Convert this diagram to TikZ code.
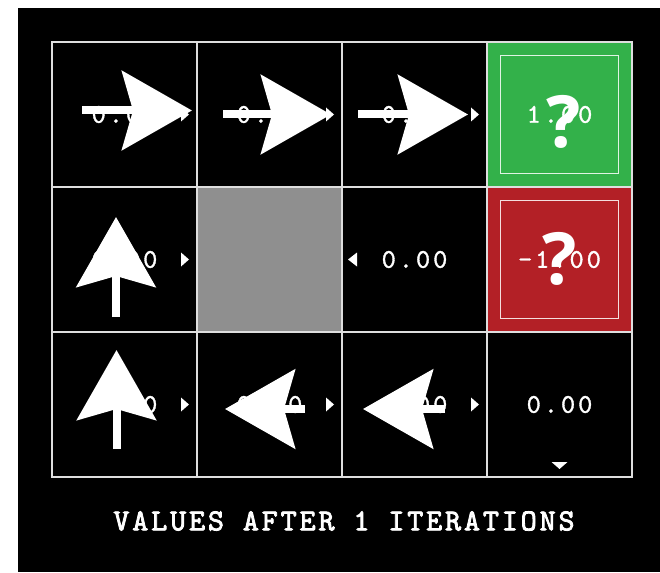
\documentclass[tikz,border=0pt]{standalone}
\usepackage{fontspec}
\usepackage{xcolor}
\usepackage{tikz}
\usetikzlibrary{arrows.meta,positioning,calc}

\newfontfamily\valfont{lmmono10-regular.otf}[LetterSpace=11,FakeBold=1.3]
\newfontfamily\titlefont{lmmono10-regular.otf}[LetterSpace=9.5,FakeBold=2.6]
\newfontfamily\askfont{Open Sans}
\definecolor{goalgreen}{RGB}{51,177,74}
\definecolor{pitred}{RGB}{179,32,38}
\definecolor{wallgray}{RGB}{143,143,143}
\definecolor{gridline}{RGB}{222,222,222}

\begin{document}
\begin{tikzpicture}[
  x=1pt, y=-1pt,
  cell/.style={draw=gridline, line width=2.2pt, minimum size=145pt, inner sep=0pt, outer sep=0pt},
  frame/.style={draw=#1, line width=1.5pt, minimum size=118pt, inner sep=0pt},
  value/.style={text=white, font=\valfont\fontsize{27}{30}\selectfont, inner sep=0pt},
  ask/.style={text=white, font=\askfont\bfseries\fontsize{72}{80}\selectfont, inner sep=0pt},
  marker/.style={fill=white},
  policy/.style={draw=white, line width=8pt, -{Stealth[length=70pt, width=79pt, inset=11pt]}}
]
\useasboundingbox (0,0) rectangle (660,572);
\fill[black] (18,8) rectangle (660,572);

\foreach \c/\r/\shade in {0/0/black, 1/0/black, 2/0/black, 3/0/goalgreen,
                          0/1/black, 1/1/wallgray, 2/1/black, 3/1/pitred,
                          0/2/black, 1/2/black, 2/2/black, 3/2/black}
  \node[cell, fill=\shade] (c\c\r) at ({124.5+145*\c},{114.5+145*\r}) {};

\node[frame=white!85!goalgreen] (goalframe) at (c30) {};
\node[frame=white!85!pitred] (pitframe) at (c31) {};

\foreach \cl in {c00,c10,c20,c01,c21,c02,c12,c22,c32}
  \node[value] at (\cl) {0.00};
\node[value] (goalval) at (c30) {1.00};
\node[value] (pitval) at (c31) {-1.00};

\foreach \cl in {c00,c10,c20,c01,c02,c12,c22}
  \fill[marker] ($(\cl.east)+(-16,-7)$) -- ++(0,14) -- ++(8,-7) -- cycle;
\fill[marker] ($(c21.west)+(15,-7)$) -- ++(0,14) -- ++(-9,-7) -- cycle;
\fill[marker] ($(c32.south)+(-8,-15)$) -- ++(16,0) -- ++(-8,7) -- cycle;

\draw[policy] ($(c00)+(-42.5,-4)$) -- ($(c00)+(67.5,-4)$);
\draw[policy] ($(c10)+(-46.5,0)$) -- ($(c10)+(61.5,0)$);
\draw[policy] ($(c20)+(-56.5,0)$) -- ($(c20)+(53.5,0)$);
\draw[policy] ($(c01)+(-8.5,57.5)$) -- ($(c01)+(-8.5,-42.5)$);
\draw[policy] ($(c02)+(-8,44.5)$) -- ($(c02)+(-8,-54.5)$);
\draw[policy] ($(c12)+(35.5,4.5)$) -- ($(c12)+(-44.5,4.5)$);
\draw[policy] ($(c22)+(30.5,4.5)$) -- ($(c22)+(-51.5,4.5)$);

\node[ask] (goalask) at ($(c30)+(4,7)$) {?};
\node[ask] (pitask) at ($(c31)+(0,-1)$) {?};

\node[text=white, font=\titlefont\fontsize{30.5}{36}\selectfont] (title) at (344,521)
  {VALUES AFTER 1 ITERATIONS};
\end{tikzpicture}
\end{document}
